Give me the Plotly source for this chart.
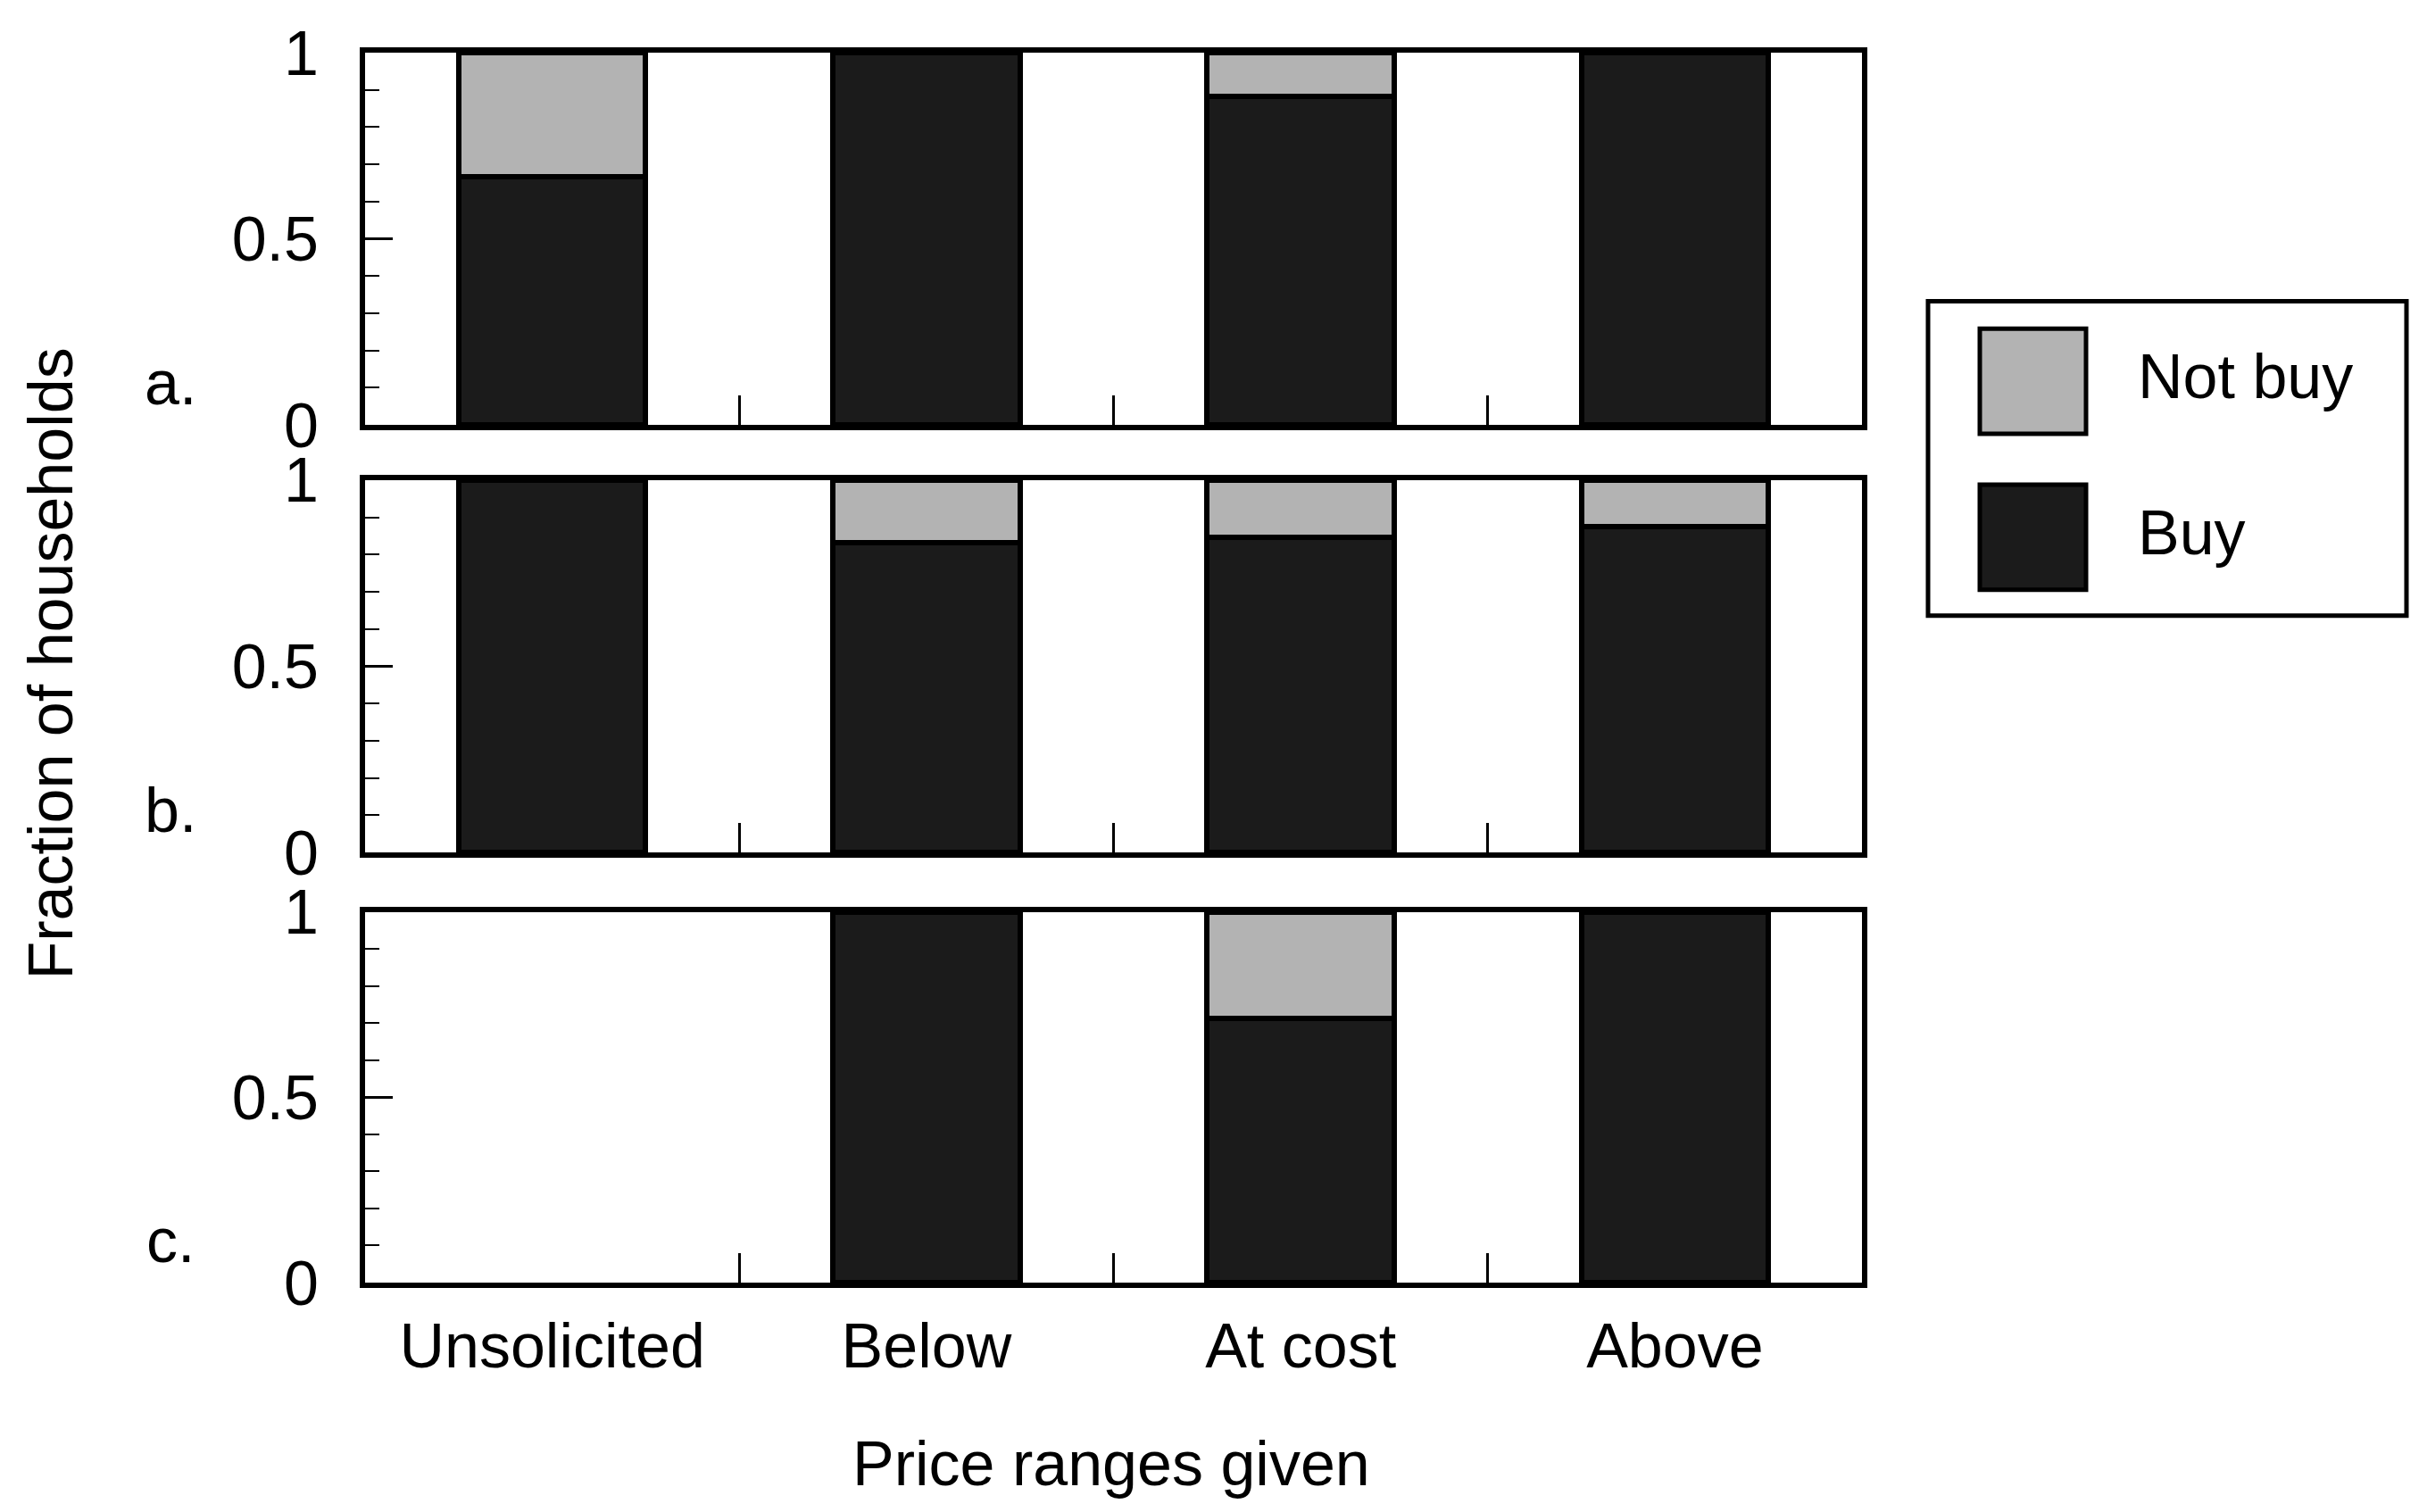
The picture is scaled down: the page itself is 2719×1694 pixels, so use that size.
import plotly.graph_objects as go
from plotly.subplots import make_subplots

# data
categories = ["Unsolicited", "Below", "At cost", "Above"]
panel_labels = ["a.", "b.", "c."]
buy = [
    [0.667, 1.0, 0.882, 1.0],
    [1.0, 0.833, 0.846, 0.875],
    [None, 1.0, 0.714, 1.0],
]
not_buy = [
    [0.333, None, 0.118, None],
    [None, 0.167, 0.154, 0.125],
    [None, None, 0.286, None],
]
y_ticks = [0, 0.5, 1]
x_title = "Price ranges given"
y_title = "Fraction of households"

BUY_COLOR = "#1b1b1b"
NOT_COLOR = "#b3b3b3"
FONT = dict(family="Liberation Sans, Arial, Helvetica, sans-serif", size=70, color="black")

# the page body adds an 8px margin, so work in page pixels and shift back
OFF = 8
W, H = 2719 - 2 * OFF, 1694 - 2 * OFF
L, R, T, B = 409 - OFF, 2086 - OFF, 56 - OFF, 1437 - OFF
PW, PH = R - L, B - T
panel_px = [(56, 474), (536, 954), (1021, 1437)]


def px(x):
    return (x - OFF - L) / PW


def py(y):
    return (B - (y - OFF)) / PH


fig = make_subplots(rows=3, cols=1, shared_xaxes=False)

for i in range(3):
    fig.add_trace(go.Bar(
        x=categories, y=buy[i], width=0.5, name="Buy",
        marker=dict(color=BUY_COLOR, line=dict(color="black", width=6)),
        showlegend=False,
    ), row=i + 1, col=1)
    fig.add_trace(go.Bar(
        x=categories, y=not_buy[i], width=0.5, name="Not buy",
        marker=dict(color=NOT_COLOR, line=dict(color="black", width=6)),
        showlegend=False,
    ), row=i + 1, col=1)

for i, (top, bot) in enumerate(panel_px):
    ax = "" if i == 0 else str(i + 1)
    fig.layout["yaxis" + ax].update(
        domain=[py(bot), py(top)], range=[0, 1],
        tickvals=y_ticks, ticks="inside", ticklen=31, tickwidth=3, tickcolor="black",
        minor=dict(dtick=0.1, ticks="inside", ticklen=16, tickwidth=2, tickcolor="black"),
        showline=True, mirror=True, linecolor="black", linewidth=6,
        showgrid=False, zeroline=False, ticklabelstandoff=32,
        tickfont=FONT,
    )
    fig.layout["xaxis" + ax].update(
        type="category", categoryorder="array", categoryarray=categories,
        range=[-0.5, 3.5], tickson="boundaries",
        ticks="inside", ticklen=33, tickwidth=3, tickcolor="black",
        showline=True, mirror=True, linecolor="black", linewidth=6,
        showgrid=False, zeroline=False,
        showticklabels=(i == 2), ticklabelstandoff=5, tickfont=FONT,
    )
    fig.add_annotation(
        text=panel_labels[i], xref="paper", yref="paper",
        x=px(191), y=py(bot - 47), xanchor="center", yanchor="middle",
        showarrow=False, font=FONT,
    )

fig.add_annotation(text=x_title, xref="paper", yref="paper", x=px(1245), y=py(1640),
                   xanchor="center", yanchor="middle", showarrow=False, font=FONT)
fig.add_annotation(text=y_title, xref="paper", yref="paper", x=px(57), y=py(742),
                   xanchor="center", yanchor="middle", textangle=-90, showarrow=False, font=FONT)

# legend drawn by hand
shapes = [dict(type="rect", xref="paper", yref="paper",
               x0=px(2160), x1=px(2696), y0=py(688), y1=py(335),
               line=dict(color="black", width=5), fillcolor="white")]
for (y0, y1), col in [((366, 484), NOT_COLOR), ((541, 659), BUY_COLOR)]:
    shapes.append(dict(type="rect", xref="paper", yref="paper",
                       x0=px(2218), x1=px(2337), y0=py(y1), y1=py(y0),
                       line=dict(color="black", width=5), fillcolor=col))
fig.update_layout(shapes=shapes)
for txt, yc in [("Not buy", 420), ("Buy", 595)]:
    fig.add_annotation(text=txt, xref="paper", yref="paper", x=px(2393), y=py(yc),
                       xanchor="left", yanchor="middle", showarrow=False, font=FONT)

fig.update_layout(
    barmode="stack", bargap=0.5,
    width=W, height=H,
    margin=dict(l=L, r=W - R, t=T, b=H - B, pad=0),
    paper_bgcolor="white", plot_bgcolor="white",
    font=FONT, showlegend=False,
)

fig.write_html("out.html")
